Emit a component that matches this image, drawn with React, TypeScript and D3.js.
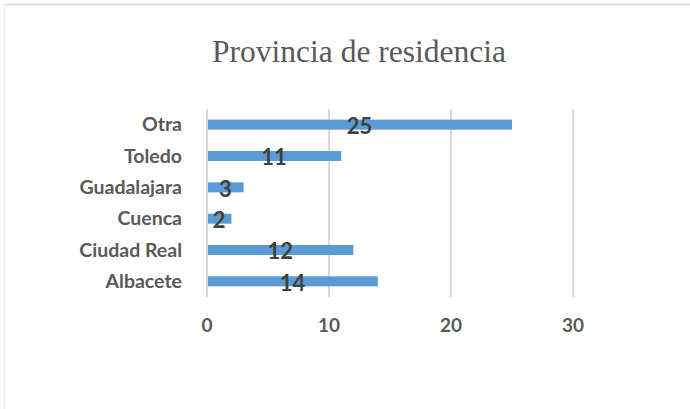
import React from "react";
import * as d3 from "d3";

const categories = ["Albacete", "Ciudad Real", "Cuenca", "Guadalajara", "Toledo", "Otra"];
const values = [14, 12, 2, 3, 11, 25];
const xTicks = [0, 10, 20, 30];
const title = "Provincia de residencia";

export default function App() {
  const W = 690, H = 409;
  const x = d3.scaleLinear().domain([0, 30]).range([207, 573]);
  const y = d3.scaleBand<string>().domain([...categories].reverse()).range([109, 297]).paddingInner(0.68).paddingOuter(0.34);
  const font = "Lato, 'Open Sans', sans-serif";
  return (
    <svg width={W} height={H} style={{ position: "absolute", left: 0, top: 0 }}>
      <rect x={0} y={0} width={W} height={H} fill="#fff" />
      <line x1={4} y1={4.5} x2={W} y2={4.5} stroke="#d9d9d9" strokeWidth={1.5} />
      <line x1={4.5} y1={4} x2={4.5} y2={H} stroke="#eeeeee" strokeWidth={1.5} />
      <text x={359} y={62} textAnchor="middle" fontFamily="'Liberation Serif', 'Times New Roman', serif" fontSize={31.5} fill="#595959">{title}</text>
      {xTicks.map(t => (
        <g key={t}>
          <line x1={x(t)} x2={x(t)} y1={109} y2={297} stroke="#d9d9d9" strokeWidth={2} />
          <text x={x(t)} y={325} dy="0.35em" textAnchor="middle" fontFamily={font} fontWeight="bold" fontSize={19} fill="#595959">{t}</text>
        </g>
      ))}
      {categories.map((c, i) => {
        const yy = y(c)!;
        const bh = y.bandwidth();
        return (
          <g key={c}>
            <rect x={x(0) + 1} y={yy} width={x(values[i]) - x(0) - 1} height={bh} fill="#5b9bd5" />
            <text x={182} y={yy + bh / 2} dy="0.35em" textAnchor="end" fontFamily={font} fontWeight="bold" fontSize={19.5} fill="#595959">{c}</text>
            <text x={(x(0) + x(values[i])) / 2} y={yy + bh / 2 + 1.5} dy="0.35em" textAnchor="middle" fontFamily={font} fontWeight="bold" fontSize={22} fill="#404040">{values[i]}</text>
          </g>
        );
      })}
    </svg>
  );
}
